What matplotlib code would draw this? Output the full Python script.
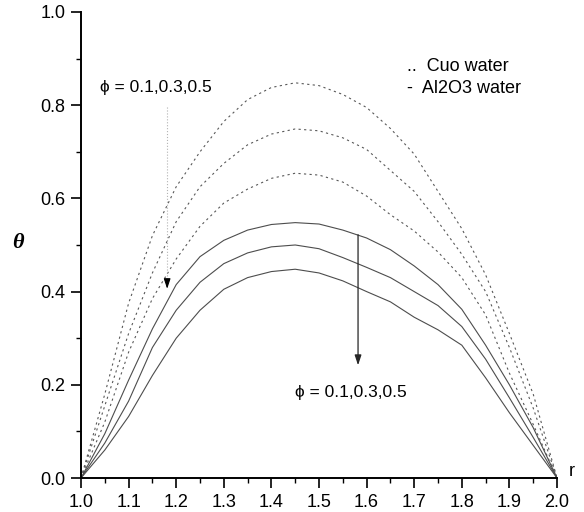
import matplotlib
matplotlib.use('Agg')
import matplotlib.pyplot as plt
from matplotlib.ticker import MultipleLocator

plt.rcParams['font.family'] = ['Liberation Sans', 'DejaVu Sans']

# radial positions and temperature profiles (dotted = CuO, solid = Al2O3)
r = [1.00, 1.05, 1.10, 1.15, 1.20, 1.25, 1.30, 1.35, 1.40, 1.45, 1.50,
     1.55, 1.60, 1.65, 1.70, 1.75, 1.80, 1.85, 1.90, 1.95, 2.00]

cuo_phi01 = [0, 0.18, 0.375, 0.52, 0.625, 0.70, 0.765, 0.812, 0.838, 0.848, 0.842,
             0.823, 0.795, 0.75, 0.695, 0.615, 0.535, 0.436, 0.31, 0.18, 0]
cuo_phi03 = [0, 0.155, 0.31, 0.44, 0.55, 0.625, 0.675, 0.715, 0.738, 0.749, 0.745,
             0.73, 0.705, 0.66, 0.615, 0.55, 0.48, 0.40, 0.28, 0.15, 0]
cuo_phi05 = [0, 0.12, 0.27, 0.385, 0.47, 0.54, 0.59, 0.62, 0.643, 0.654, 0.65,
             0.635, 0.605, 0.565, 0.53, 0.485, 0.43, 0.35, 0.225, 0.115, 0]

al_phi01 = [0, 0.095, 0.21, 0.32, 0.415, 0.475, 0.51, 0.532, 0.544, 0.548, 0.545,
            0.532, 0.515, 0.49, 0.455, 0.415, 0.362, 0.285, 0.2, 0.108, 0]
al_phi03 = [0, 0.075, 0.165, 0.28, 0.36, 0.42, 0.46, 0.483, 0.496, 0.50, 0.492,
            0.473, 0.452, 0.43, 0.40, 0.37, 0.325, 0.255, 0.172, 0.087, 0]
al_phi05 = [0, 0.06, 0.132, 0.22, 0.30, 0.36, 0.405, 0.43, 0.443, 0.448, 0.44,
            0.423, 0.40, 0.378, 0.345, 0.318, 0.285, 0.215, 0.14, 0.07, 0]

PHI_TEXT = '\u03d5 = 0.1,0.3,0.5'

fig = plt.figure(figsize=(5.84, 5.12), dpi=100)
ax = fig.add_axes([0.1387, 0.0664, 0.8151, 0.9102])

for y in [cuo_phi01, cuo_phi03, cuo_phi05]:
    ax.plot(r, y, color='0.35', lw=0.8, linestyle=(0, (2, 3)))
for y in [al_phi01, al_phi03, al_phi05]:
    ax.plot(r, y, color='0.3', lw=0.8)

ax.set_xlim(1.0, 2.0)
ax.set_ylim(0.0, 1.0)
ax.xaxis.set_major_locator(MultipleLocator(0.1))
ax.xaxis.set_minor_locator(MultipleLocator(0.05))
ax.yaxis.set_major_locator(MultipleLocator(0.2))
ax.yaxis.set_minor_locator(MultipleLocator(0.1))
ax.xaxis.set_major_formatter(lambda v, p: f'{v:.1f}')
ax.yaxis.set_major_formatter(lambda v, p: f'{v:.1f}')

for side in ['top', 'right']:
    ax.spines[side].set_visible(False)
for side in ['left', 'bottom']:
    ax.spines[side].set_linewidth(1.4)
ax.tick_params(which='major', direction='out', length=7, width=1.2,
               labelsize=13)
ax.tick_params(axis='x', which='major', pad=4.5)
ax.tick_params(axis='y', which='major', pad=4)
ax.tick_params(which='minor', direction='out', length=3.5, width=1.0)

ax.text(-0.132, 0.504, '\u03b8', transform=ax.transAxes, fontsize=16,
        fontweight='bold', fontstyle='italic', family='Liberation Serif',
        ha='center', va='center')
ax.text(1.025, 0.014, 'r', transform=ax.transAxes, fontsize=13,
        ha='left', va='center')

# legend written as plain text
ax.text(1.685, 0.882, '..  Cuo water', fontsize=13, ha='left', va='center')
ax.text(1.685, 0.835, '-  Al2O3 water', fontsize=13, ha='left', va='center')

# upper phi label with dotted pointer
ax.text(1.04, 0.838, PHI_TEXT, fontsize=12.5, ha='left', va='center')
ax.plot([1.181, 1.181], [0.796, 0.42], color='0.7', lw=0.8, linestyle=':')
ax.annotate('', xy=(1.181, 0.40), xytext=(1.181, 0.425),
            arrowprops=dict(arrowstyle='-|>,head_length=0.6,head_width=0.2',
                            color='black', lw=0.8))

# lower phi label with solid arrow
ax.annotate('', xy=(1.582, 0.236), xytext=(1.582, 0.528),
            arrowprops=dict(arrowstyle='-|>,head_length=0.6,head_width=0.2',
                            color='0.15', lw=0.9))
ax.text(1.45, 0.183, PHI_TEXT, fontsize=12.5, ha='left', va='center')

fig.savefig('out.png', dpi=100)
